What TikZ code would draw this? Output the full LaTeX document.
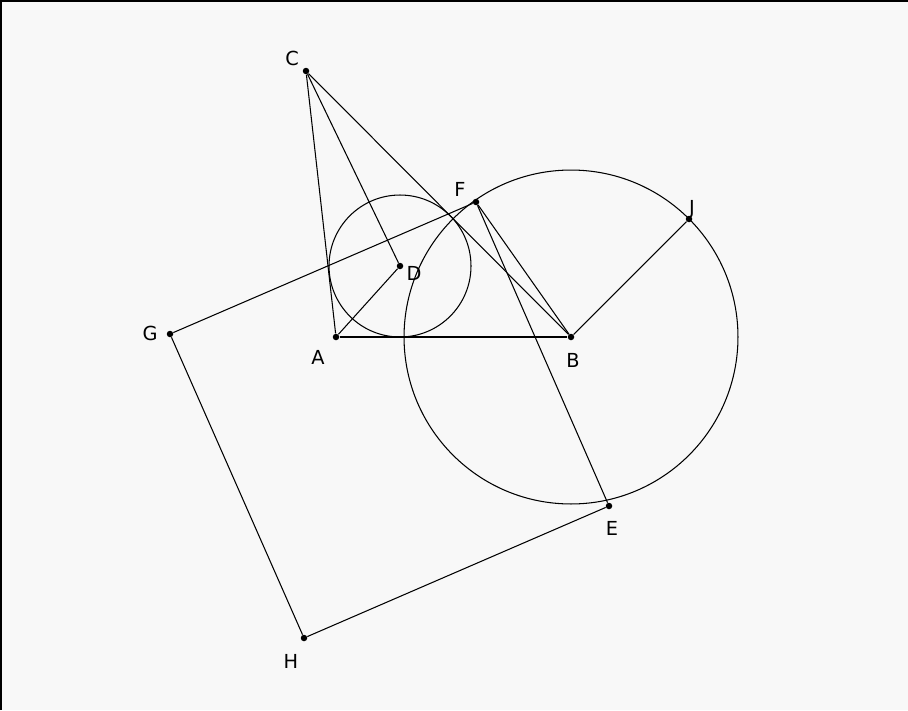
\documentclass[tikz,border=0pt]{standalone}
\usepackage{fontspec}
\setmainfont{DejaVu Sans}
\usetikzlibrary{positioning}
\definecolor{paper}{HTML}{F8F8F8}

\begin{document}
\begin{tikzpicture}[
      x=0.02cm,
      y=-0.02cm,
      font=\fontsize{11}{13}\selectfont,
      dot/.style={circle, fill, inner sep=0pt, minimum size=1.3mm},
      lbl/.style={inner sep=1pt},
      seg/.style={line width=0.6pt}
  ]
  % Canvas: 908 x 710, y grows downward
  \fill[paper] (0,0) rectangle (908,710);
  \useasboundingbox (0,0) rectangle (908,710);
  \draw[line width=1.2pt] (0.6,710) -- (0.6,0.6) -- (908,0.6);

  % --- Points ---
  \node[dot] (A) at (336,337) {};
  \node[dot] (B) at (571,337) {};
  \node[dot] (C) at (306,71)  {};
  \node[dot] (D) at (400,266) {};
  \node[dot] (F) at (476,202) {};
  \node[dot] (J) at (689,219) {};
  \node[dot] (G) at (170,334) {};
  \node[dot] (H) at (304,638) {};
  \node[dot] (E) at (609,506) {};

  % --- Labels ---
  \node[lbl] (lA) at (318,357) {A};
  \node[lbl] (lB) at (573,360) {B};
  \node[lbl] (lC) at (292,58)  {C};
  \node[lbl] (lD) at (414,273) {D};
  \node[lbl] (lF) at (460,189) {F};
  \node[lbl] (lJ) at (692,209) {J};
  \node[lbl] (lG) at (150,333) {G};
  \node[lbl] (lE) at (612,528) {E};
  \node[lbl] (lH) at (291,661) {H};

  % --- Circles ---
  \draw[seg] (D.center) circle (1.42cm);
  \draw[seg] (B.center) circle (3.34cm);

  % --- Triangle and segments ---
  \draw[seg] (A) -- (B);
  \draw[seg] (A) -- (C);
  \draw[seg] (C) -- (B);
  \draw[seg] (C) -- (D);
  \draw[seg] (A) -- (D);
  \draw[seg] (F) -- (B);
  \draw[seg] (B) -- (J);
  \draw[seg] (F) -- (E);

  % Square on F, G, H, E
  \draw[seg] (G) -- (F);
  \draw[seg] (G) -- (H);
  \draw[seg] (H) -- (E);

\end{tikzpicture}
\end{document}
